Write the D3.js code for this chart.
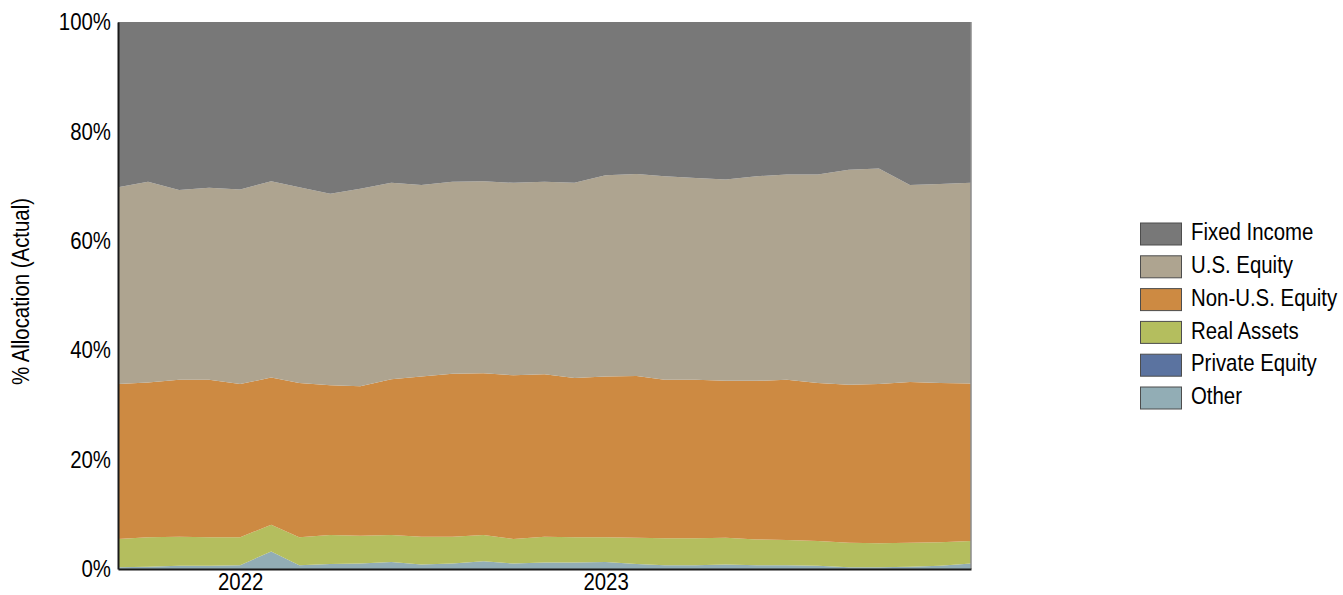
<!DOCTYPE html>
<html>
<head>
<meta charset="utf-8">
<script src="https://cdn.jsdelivr.net/npm/d3@7"></script>
<style>
  html, body { margin: 0; padding: 0; background: #ffffff; }
  svg { display: block; }
  text { font-family: "Liberation Sans", Arial, sans-serif; fill: #000; }
</style>
</head>
<body>
<svg id="chart" width="1343" height="595"></svg>
<script>
// ---- Data (monthly, Sep 2021 – Jan 2024) ----
const months = ["2021-09","2021-10","2021-11","2021-12","2022-01","2022-02","2022-03","2022-04","2022-05","2022-06",
                "2022-07","2022-08","2022-09","2022-10","2022-11","2022-12","2023-01","2023-02","2023-03","2023-04",
                "2023-05","2023-06","2023-07","2023-08","2023-09","2023-10","2023-11","2023-12","2024-01"];

const other         = [0.3,0.4,0.6,0.6,0.7,3.2,0.7,0.9,1.0,1.3,0.8,1.0,1.4,1.0,1.2,1.2,1.3,0.9,0.7,0.7,0.8,0.7,0.7,0.6,0.3,0.3,0.4,0.6,1.0];
const privateEquity = [0,0,0,0,0,0,0,0,0,0,0,0,0,0,0,0,0,0,0,0,0,0,0,0,0,0,0,0,0];
const realAssets    = [5.2,5.4,5.3,5.2,5.1,4.9,5.1,5.3,5.1,4.9,5.1,4.9,4.8,4.5,4.7,4.6,4.5,4.8,4.9,4.9,4.9,4.7,4.6,4.5,4.5,4.4,4.4,4.3,4.1];
const nonUSEquity   = [28.3,28.3,28.7,28.8,28.0,26.9,28.2,27.4,27.3,28.5,29.3,29.8,29.6,29.9,29.7,29.1,29.4,29.6,29.0,29.0,28.7,29.0,29.3,28.9,28.9,29.1,29.4,29.1,28.8];
const usEquity      = [36.0,36.7,34.7,35.1,35.6,35.9,35.8,35.0,36.1,35.9,35.0,35.1,35.1,35.2,35.2,35.7,36.8,36.9,37.2,36.9,36.8,37.4,37.5,38.1,39.3,39.4,36.0,36.4,36.7];
const fixedIncome   = [30.2,29.2,30.7,30.3,30.6,29.1,30.2,31.4,30.5,29.4,29.8,29.2,29.1,29.4,29.2,29.4,28.0,27.8,28.2,28.5,28.8,28.2,27.9,27.9,27.0,26.8,29.8,29.6,29.4];

const seriesNames  = ["Other","Private Equity","Real Assets","Non-U.S. Equity","U.S. Equity","Fixed Income"];
const seriesValues = [other, privateEquity, realAssets, nonUSEquity, usEquity, fixedIncome];
const seriesColors = ["#92adb5","#5b73a0","#b4be5e","#cd8a42","#aea490","#787878"];
const legendOrder  = ["Fixed Income","U.S. Equity","Non-U.S. Equity","Real Assets","Private Equity","Other"];

const yTickValues = [0,20,40,60,80,100];
const xTickDates  = ["2022-01","2023-01"];
const xTickLabels = ["2022","2023"];
const yTitle = "% Allocation (Actual)";

// ---- Layout ----
const FONT_SIZE = 24;
const NARROW = 0.85; // emulate a condensed face
const svg = d3.select("#chart");
const margin = { left: 118, right: 1343 - 971, top: 22, bottom: 595 - 569 };
const W = 1343, H = 595;
const parse = d3.timeParse("%Y-%m");

const rows = months.map((m, i) => {
  const r = { date: parse(m) };
  seriesNames.forEach((n, k) => { r[n] = seriesValues[k][i]; });
  return r;
});

const x = d3.scaleTime()
  .domain(d3.extent(rows, d => d.date))
  .range([margin.left, W - margin.right]);
const y = d3.scaleLinear()
  .domain([0, 100])
  .range([H - margin.bottom, margin.top]);

const color = d3.scaleOrdinal().domain(seriesNames).range(seriesColors);

const stack = d3.stack().keys(seriesNames);
const layers = stack(rows);

const area = d3.area()
  .x(d => x(d.data.date))
  .y0(d => y(d[0]))
  .y1(d => y(d[1]));

svg.append("g")
  .selectAll("path")
  .data(layers)
  .join("path")
  .attr("fill", d => color(d.key))
  .attr("d", area);

// Right frame (thin grey)
svg.append("line")
  .attr("x1", x.range()[1]).attr("x2", x.range()[1])
  .attr("y1", y(100)).attr("y2", y(0))
  .attr("stroke", "#8c8c8c").attr("stroke-width", 1.5);

// Y axis
const yAxis = svg.append("g")
  .attr("transform", `translate(${margin.left},0)`)
  .call(d3.axisLeft(y).tickValues(yTickValues).tickFormat(d => d + "%").tickSize(0).tickPadding(0));
yAxis.select(".domain").attr("stroke", "#1a1a1a").attr("stroke-width", 2);
yAxis.selectAll(".tick text")
  .attr("x", 0)
  .attr("transform", `translate(-7,0) scale(${NARROW},1)`)
  .style("font-size", FONT_SIZE + "px").attr("fill", "#000")
  .style("font-family", '"Liberation Sans", Arial, sans-serif');

// X axis
const xAxis = svg.append("g")
  .attr("transform", `translate(0,${H - margin.bottom})`)
  .call(d3.axisBottom(x).tickValues(xTickDates.map(parse))
        .tickFormat((d, i) => xTickLabels[i]).tickSize(0).tickPadding(4));
xAxis.select(".domain").attr("stroke", "#1a1a1a").attr("stroke-width", 2);
xAxis.selectAll(".tick text")
  .attr("transform", `scale(${NARROW},1)`)
  .style("font-size", FONT_SIZE + "px").attr("fill", "#000")
  .style("font-family", '"Liberation Sans", Arial, sans-serif');

// Y title
svg.append("text")
  .attr("transform", `translate(29,${(y(0) + y(100)) / 2 - 4}) rotate(-90) scale(${NARROW},1)`)
  .attr("text-anchor", "middle")
  .style("font-size", FONT_SIZE + "px")
  .text(yTitle);

// Legend
const legend = svg.append("g").attr("transform", "translate(1140,222.5)");
const li = legend.selectAll("g")
  .data(legendOrder)
  .join("g")
  .attr("transform", (d, i) => `translate(0,${i * 32.8})`);
li.append("rect")
  .attr("x", 0.5).attr("y", 0.5)
  .attr("width", 41).attr("height", 22)
  .attr("fill", d => color(d))
  .attr("stroke", "#4d4d4d").attr("stroke-width", 1);
li.append("text")
  .attr("transform", `translate(51,9) scale(${NARROW},1)`)
  .attr("dy", "0.36em")
  .style("font-size", FONT_SIZE + "px")
  .text(d => d);
</script>
</body>
</html>
